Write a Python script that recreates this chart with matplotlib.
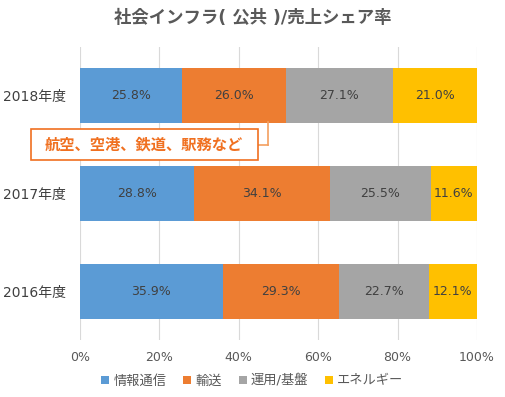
import matplotlib
matplotlib.use("Agg")
import matplotlib.pyplot as plt
from matplotlib.patches import Rectangle
import numpy as np

plt.rcParams['font.family'] = ['DejaVu Sans', 'Noto Sans CJK JP']

years = ["2018年度", "2017年度", "2016年度"]
series = ["情報通信", "輸送", "運用/基盤", "エネルギー"]
values = {
    "情報通信": [25.8, 28.8, 35.9],
    "輸送": [26.0, 34.1, 29.3],
    "運用/基盤": [27.1, 25.5, 22.7],
    "エネルギー": [21.0, 11.6, 12.1],
}
colors = ["#5B9BD5", "#ED7D31", "#A5A5A5", "#FFC000"]
title = "社会インフラ( 公共 )/売上シェア率"
note = "航空、空港、鉄道、駅務など"

fig = plt.figure(figsize=(5.05, 3.97), dpi=100)
ax = fig.add_axes([80/505, 1-340/397, 397/505, 293/397])

y = np.arange(len(years))
left = np.zeros(len(years))
for s, c in zip(series, colors):
    v = np.array(values[s])
    ax.barh(y, v, left=left, height=0.56, color=c, label=s, zorder=3)
    for yi, (l, vi) in enumerate(zip(left, v)):
        ax.text(l + vi/2, yi, f"{vi:.1f}%", ha='center', va='center',
                fontsize=9, color='#404040', zorder=4)
    left = left + v

ax.set_xlim(0, 100)
ax.set_ylim(2.5, -0.5)
ax.set_yticks(y)
ax.set_yticklabels(years, fontsize=10, color='#404040')
ax.set_xticks(np.arange(0, 101, 20))
ax.set_xticklabels([f"{t}%" for t in range(0, 101, 20)], fontsize=9, color='#595959')
ax.tick_params(axis='y', length=0, pad=10)
ax.tick_params(axis='x', length=0, pad=8)
ax.grid(axis='x', color='#D9D9D9', linewidth=0.8, zorder=0)
for sp in ax.spines.values():
    sp.set_visible(False)

fig.text(0.5, 1-18/397, title, ha='center', va='center', fontsize=12.5,
         fontweight='bold', color='#595959')

# annotation box
fig.add_artist(Rectangle((31/505, 1-160/397), 227/505, 31/397, transform=fig.transFigure,
                         facecolor='white', edgecolor='#F07020', linewidth=1.2, zorder=5))
fig.text(144/505, 1-145/397, note, ha='center', va='center', fontsize=11,
         fontweight='bold', color='#F07020', zorder=6)
fig.add_artist(plt.Line2D([258/505, 268/505], [1-145/397, 1-145/397], color='#F4A060', lw=1.2))
fig.add_artist(plt.Line2D([268/505, 268/505], [1-145/397, 1-122/397], color='#F4A060', lw=1.2))

leg = fig.legend(loc='center', bbox_to_anchor=(0.5, 1-381/397), ncol=4, frameon=False,
                 fontsize=9.5, handlelength=0.6, handleheight=0.6, handletextpad=0.3,
                 columnspacing=1.3)
for t in leg.get_texts():
    t.set_color('#595959')

fig.savefig("out.png", dpi=100)
